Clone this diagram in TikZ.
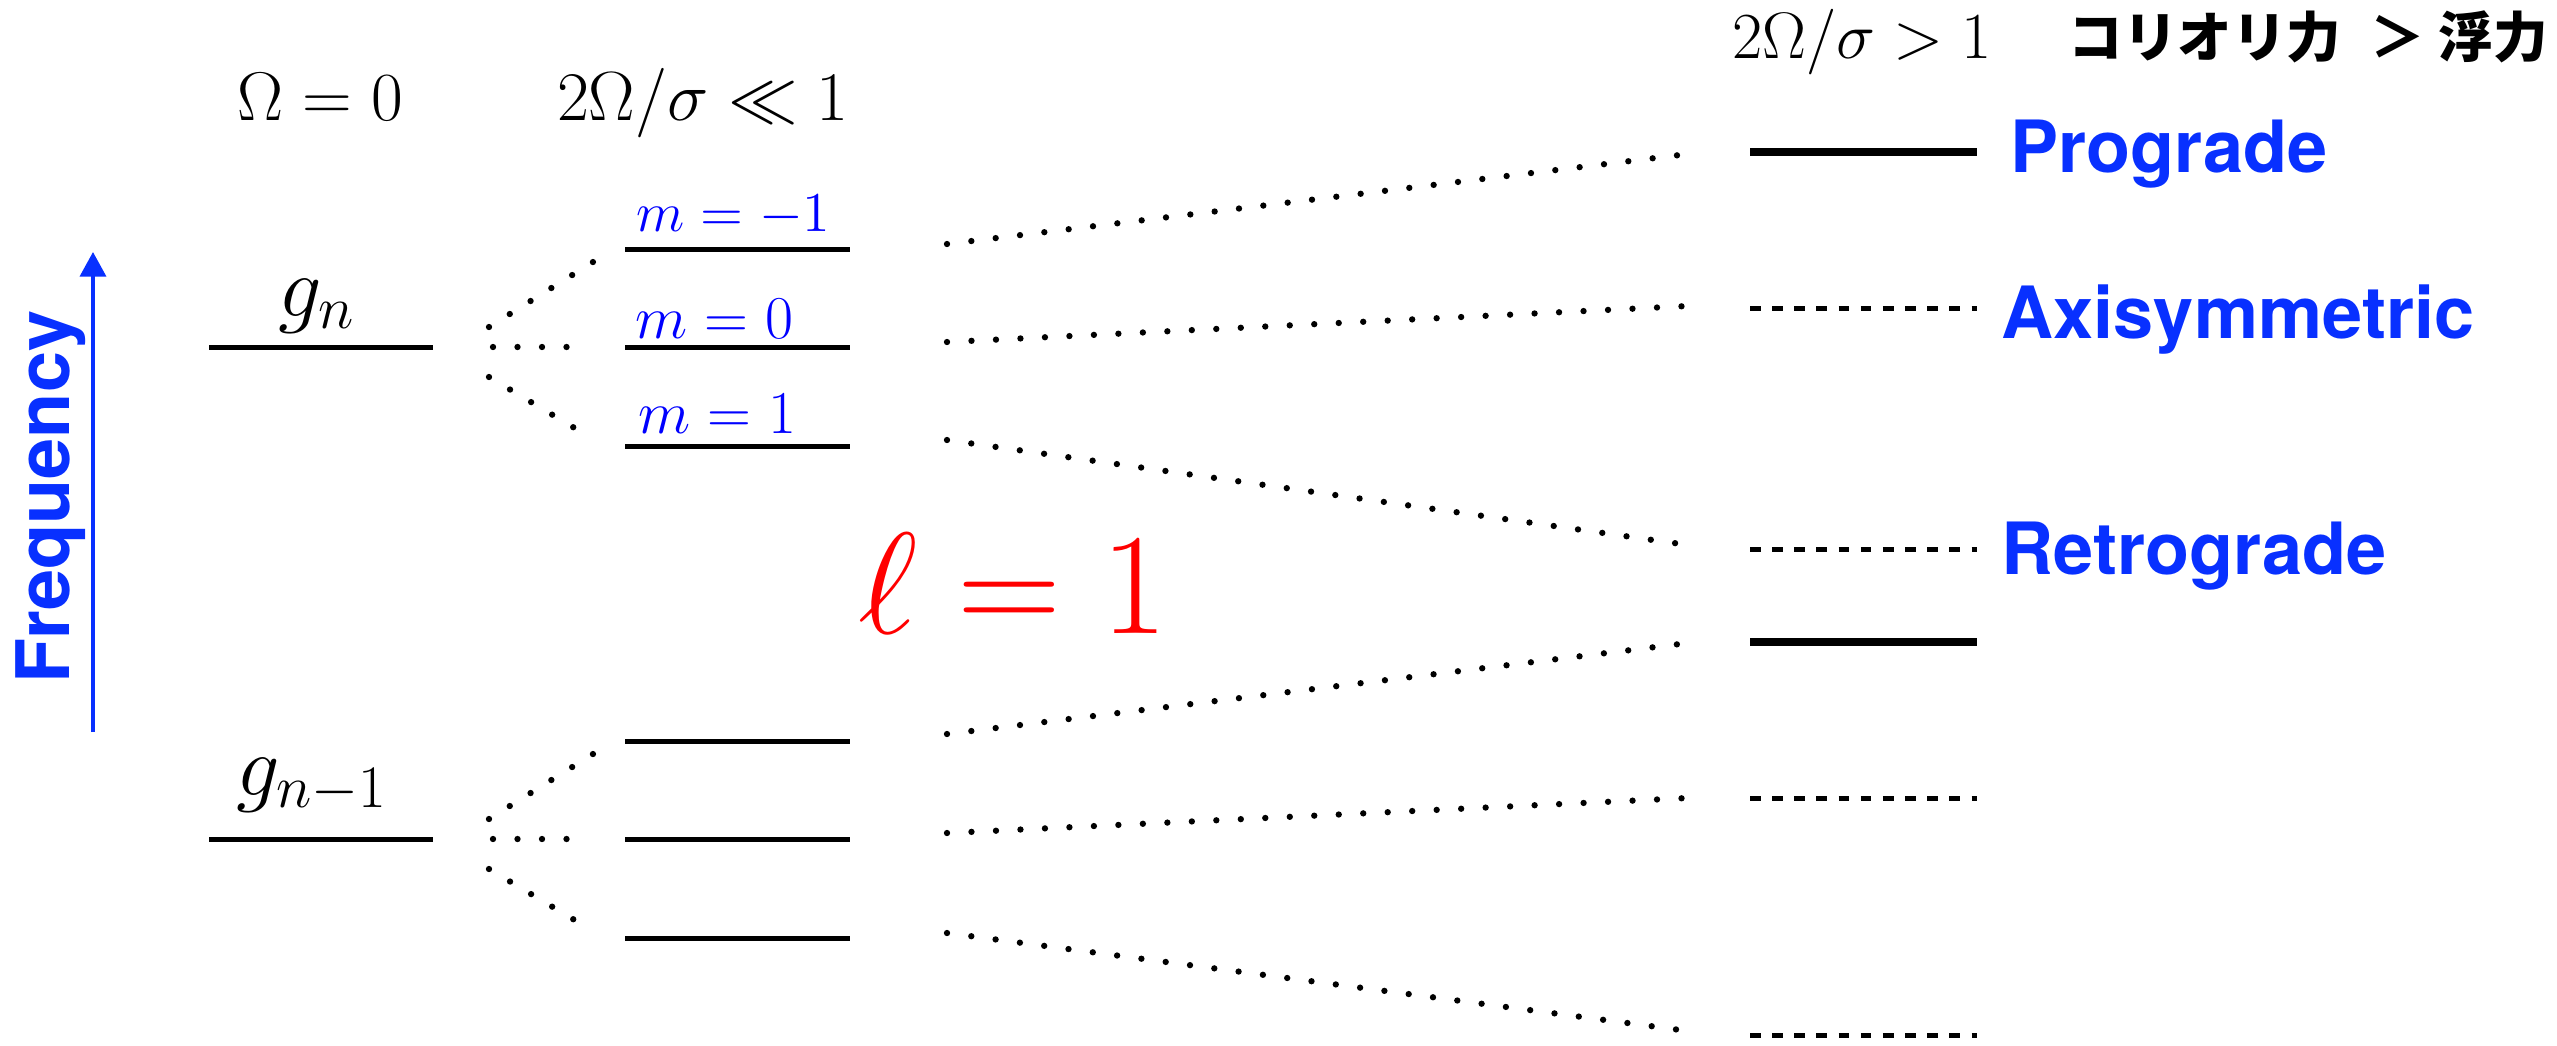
\RequirePackage{fix-cm}
\documentclass[tikz,border=0pt]{standalone}
\usepackage{fontspec}
\setsansfont{TeX Gyre Heros}
\newfontfamily\jpfont{Noto Sans CJK JP}
\usetikzlibrary{arrows.meta}
\definecolor{lblue}{RGB}{8,48,255}
\definecolor{mblue}{RGB}{0,0,255}
\definecolor{lred}{RGB}{255,0,0}
\tikzset{
  levelline/.style={line width=1.42pt},
  thicklevel/.style={line width=2.3pt},
  dashlevel/.style={line width=1.42pt, dash pattern=on 3pt off 3.3pt},
  dotline/.style={line width=1.8pt, line cap=round, dash pattern=on 0pt off 6.97pt},
  lab/.style={inner sep=0pt, anchor=base west, text=lblue, font=\sffamily\bfseries\fontsize{20.5}{24}\selectfont},
  mlab/.style={inner sep=0pt, anchor=base west, text=mblue},
  hdr/.style={inner sep=0pt, anchor=base},
}
\begin{document}
\begin{tikzpicture}[x=0.01cm,y=-0.01cm]
\useasboundingbox (0,0) rectangle (2557,1045);

% headers
\node[hdr, font=\fontsize{19.6}{22}\selectfont] (h0) at (320,120) {$\Omega=0$};
\node[hdr, font=\fontsize{19.8}{22}\selectfont] (h1) at (703,120) {$2\Omega/\sigma\ll 1$};
\node[hdr, font=\fontsize{18.7}{22}\selectfont] (h2) at (1862,58) {$2\Omega/\sigma>1$};
\node[inner sep=0pt, anchor=base west, font=\jpfont\bfseries\fontsize{15.5}{18}\selectfont] (h3) at (2068,57) {コリオリ力\hspace{0.54em}＞\hspace{0.25em}浮力};

% frequency axis
\coordinate (flo) at (93,732);
\coordinate (fhi) at (93,252);
\draw[lblue, line width=1pt, -{Triangle[length=7pt,width=7.4pt]}] (flo) -- (fhi);
\node[inner sep=0pt, anchor=base, rotate=90, text=lblue, font=\sffamily\bfseries\fontsize{21}{24}\selectfont] (freq) at (69,497) {Frequency};

% g labels
\node[hdr, font=\fontsize{24.5}{28}\selectfont] (gn) at (317,316) {$g_n$};
\node[hdr, font=\fontsize{24.5}{28}\selectfont] (gn1) at (312,795) {$g_{n-1}$};

% left groups
\foreach \G/\g in {347/a, 839/b} {
  \draw[levelline] (209,\G) -- (433,\G);
  \draw[levelline] (625,{\G-98}) -- (850,{\G-98});
  \draw[levelline] (625,\G) -- (850,\G);
  \draw[levelline] (625,{\G+99}) -- (850,{\G+99});
  \coordinate (fu\g s) at (489,{\G-20});
  \coordinate (fu\g e) at (593,{\G-85});
  \coordinate (fm\g s) at (493,\G);
  \coordinate (fm\g e) at (591,\G);
  \coordinate (fl\g s) at (489,{\G+30});
  \coordinate (fl\g e) at (593,{\G+92});
  \draw[dotline] (fu\g s) -- (fu\g e);
  \draw[dotline] (fm\g s) -- (fm\g e);
  \draw[dotline] (fl\g s) -- (fl\g e);
}

% m labels
\node[mlab, font=\fontsize{16}{18}\selectfont] (mm1) at (636,231) {$m=-1$};
\node[mlab, font=\fontsize{17.3}{20}\selectfont] (m0) at (635,338) {$m=0$};
\node[mlab, font=\fontsize{17.3}{20}\selectfont] (mp1) at (638,433) {$m=1$};

% l = 1
\node[hdr, text=lred, font=\fontsize{41}{46}\selectfont] (ell) at (1013,633) {$\ell=1$};

% right levels
\draw[thicklevel] (1750,152) -- (1977,152);
\draw[dashlevel] (1750,308) -- (1977,308);
\draw[dashlevel] (1750,549) -- (1977,549);
\draw[thicklevel] (1750,642) -- (1977,642);
\draw[dashlevel] (1750,798) -- (1977,798);
\draw[dashlevel] (1750,1035) -- (1977,1035);

% long connectors
\foreach \i/\ys/\ye in {1/244/154, 2/342/306, 3/440/545, 4/734/643, 5/833/798, 6/933/1031} {
  \coordinate (ls\i) at (947,\ys);
  \coordinate (le\i) at (1688,\ye);
  \draw[dotline] (ls\i) -- (le\i);
}

% right labels
\node[lab] (pro) at (2010,172) {Prograde};
\node[lab] (axi) at (2001,338) {Axisymmetric};
\node[lab] (ret) at (2001,574) {Retrograde};
\end{tikzpicture}
\end{document}
